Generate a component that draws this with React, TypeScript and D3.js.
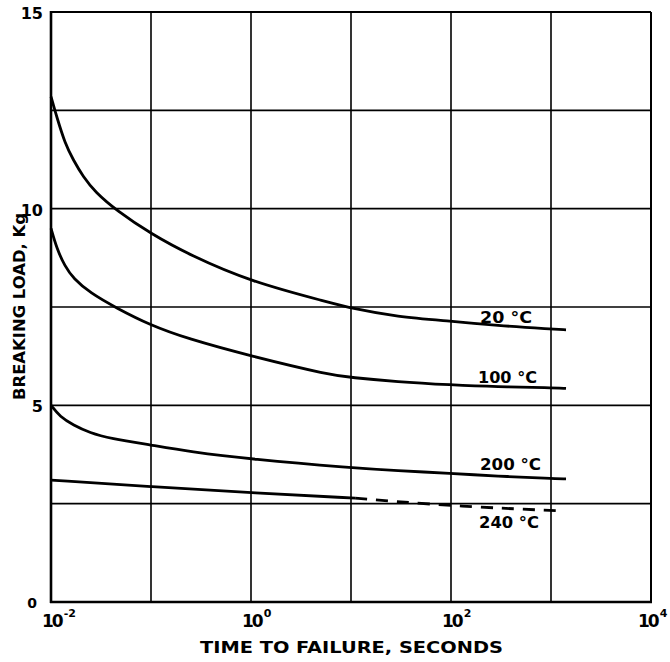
import React from "react";
import * as d3 from "d3";

// ---- data ----
const xTickValues = [1e-2, 1e-1, 1e0, 1e1, 1e2, 1e3, 1e4];
const xLabelExps = ["-2", "0", "2", "4"];
const xLabelValues = [1e-2, 1e0, 1e2, 1e4];
const yGridValues = [0, 2.5, 5, 7.5, 10, 12.5, 15];
const yLabelValues = [0, 5, 10, 15];

const t20 = [0.01, 0.0104, 0.0114, 0.0138, 0.0167, 0.021, 0.0275, 0.0454, 0.1, 0.245, 1, 6.2, 10, 28.6, 100, 286, 1000, 1413];
const v20 = [12.85, 12.7, 12.34, 11.66, 11.24, 10.81, 10.43, 9.95, 9.36, 8.82, 8.14, 7.61, 7.47, 7.25, 7.14, 7.03, 6.94, 6.92];

const t100 = [0.01, 0.0114, 0.0138, 0.0167, 0.0245, 0.0454, 0.098, 0.228, 1, 6.2, 10, 28.6, 100, 286, 1000, 1413];
const v100 = [9.5, 8.99, 8.53, 8.23, 7.86, 7.47, 7.04, 6.7, 6.25, 5.77, 5.71, 5.6, 5.52, 5.47, 5.45, 5.43];

const t200 = [0.01, 0.0123, 0.0167, 0.0245, 0.039, 0.1, 0.245, 1, 10, 28.6, 100, 286, 1000, 1413];
const v200 = [5.0, 4.71, 4.5, 4.3, 4.16, 3.99, 3.82, 3.63, 3.41, 3.34, 3.27, 3.2, 3.14, 3.13];

const t240solid = [0.01, 0.1, 1, 11];
const v240solid = [3.1, 2.93, 2.78, 2.64];
const t240dash = [11, 100, 1175];
const v240dash = [2.64, 2.44, 2.32];

const seriesLabels = ["20 °C", "100 °C", "200 °C", "240 °C"];

const W = 670;
const H = 662;

export default function App() {
  const x = d3.scaleLog().domain([1e-2, 1e4]).range([51, 651]);
  const y = d3.scaleLinear().domain([0, 15]).range([602, 12]);

  const line = d3
    .line<[number, number]>()
    .x((d) => x(d[0]))
    .y((d) => y(d[1]))
    .curve(d3.curveBasis);

  const zip = (ts: number[], vs: number[]) => ts.map((t, i) => [t, vs[i]] as [number, number]);

  const curves = [
    { d: line(zip(t20, v20)), dash: undefined },
    { d: line(zip(t100, v100)), dash: undefined },
    { d: line(zip(t200, v200)), dash: undefined },
    { d: line(zip(t240solid, v240solid)), dash: undefined },
    { d: line(zip(t240dash, v240dash)), dash: "12,9" },
  ];

  const font = "'DejaVu Sans', sans-serif";
  const end20 = t20.length - 1;
  const end100 = t100.length - 1;
  const end200 = t200.length - 1;
  const end240 = t240dash.length - 1;

  const labels = [
    { text: seriesLabels[0], xr: x(t20[end20]) - 34, yb: y(v20[end20]) - 7, len: 52 },
    { text: seriesLabels[1], xr: x(t100[end100]) - 29, yb: y(v100[end100]) - 5, len: 59 },
    { text: seriesLabels[2], xr: x(t200[end200]) - 25, yb: y(v200[end200]) - 9, len: 61 },
    { text: seriesLabels[3], xr: x(t240dash[end240]) - 19, yb: y(v240dash[end240]) + 17, len: 60 },
  ];

  return (
    <svg
      width={W}
      height={H}
      viewBox={`0 0 ${W} ${H}`}
      style={{ position: "absolute", left: 0, top: 0, background: "#fff" }}
    >
      <rect x={0} y={0} width={W} height={H} fill="#fff" />
      {/* grid */}
      {xTickValues.map((v, i) => (
        <line key={"gx" + i} x1={x(v)} x2={x(v)} y1={y(0)} y2={y(15)} stroke="#000" strokeWidth={1.6} />
      ))}
      {yGridValues.map((v, i) => (
        <line key={"gy" + i} x1={x(1e-2)} x2={x(1e4)} y1={y(v)} y2={y(v)} stroke="#000" strokeWidth={1.6} />
      ))}
      {/* frame */}
      <line x1={x(1e-2)} x2={x(1e-2)} y1={y(0) + 1} y2={y(15) - 1} stroke="#000" strokeWidth={2.6} />
      <line x1={x(1e-2) - 1} x2={x(1e4) + 1} y1={y(0)} y2={y(0)} stroke="#000" strokeWidth={2.6} />
      <line x1={x(1e-2)} x2={x(1e4)} y1={y(15)} y2={y(15)} stroke="#000" strokeWidth={2} />
      <line x1={x(1e4)} x2={x(1e4)} y1={y(0)} y2={y(15)} stroke="#000" strokeWidth={2} />

      {/* curves */}
      {curves.map((c, i) => (
        <path
          key={"c" + i}
          d={c.d || ""}
          fill="none"
          stroke="#000"
          strokeWidth={2.8}
          strokeDasharray={c.dash}
          strokeLinecap="butt"
        />
      ))}

      {/* series labels */}
      {labels.map((l, i) => (
        <text
          key={"l" + i}
          x={l.xr - l.len}
          y={l.yb}
          fontFamily={font}
          fontWeight={700}
          fontSize={15}
          textLength={l.len}
          lengthAdjust="spacingAndGlyphs"
        >
          {l.text}
        </text>
      ))}

      {/* y tick labels */}
      {yLabelValues.map((v, i) => (
        <text
          key={"yl" + i}
          x={v === 0 ? 37 : 43}
          y={y(v) + (v === 0 ? 6 : 7)}
          textAnchor="end"
          fontFamily={font}
          fontWeight={700}
          fontSize={v === 0 ? 14 : 16}
        >
          {String(v)}
        </text>
      ))}

      {/* x tick labels */}
      {xLabelValues.map((v, i) => (
        <text
          key={"xl" + i}
          x={x(v) - (i === xLabelValues.length - 1 ? 13 : 9)}
          y={627}
          fontFamily={font}
          fontWeight={700}
          fontSize={17}
        >
          <tspan letterSpacing={-2}>10</tspan>
          <tspan dx={2} dy={-10} fontSize={11}>
            {xLabelExps[i]}
          </tspan>
        </text>
      ))}

      {/* axis titles */}
      <text
        x={200}
        y={653}
        fontFamily={font}
        fontWeight={700}
        fontSize={16}
        textLength={303}
        lengthAdjust="spacingAndGlyphs"
      >
        TIME TO FAILURE, SECONDS
      </text>
      <text
        transform={`translate(25, 400) rotate(-90)`}
        fontFamily={font}
        fontWeight={700}
        fontSize={16}
        textLength={187}
        lengthAdjust="spacingAndGlyphs"
      >
        BREAKING LOAD, Kg
      </text>
    </svg>
  );
}
